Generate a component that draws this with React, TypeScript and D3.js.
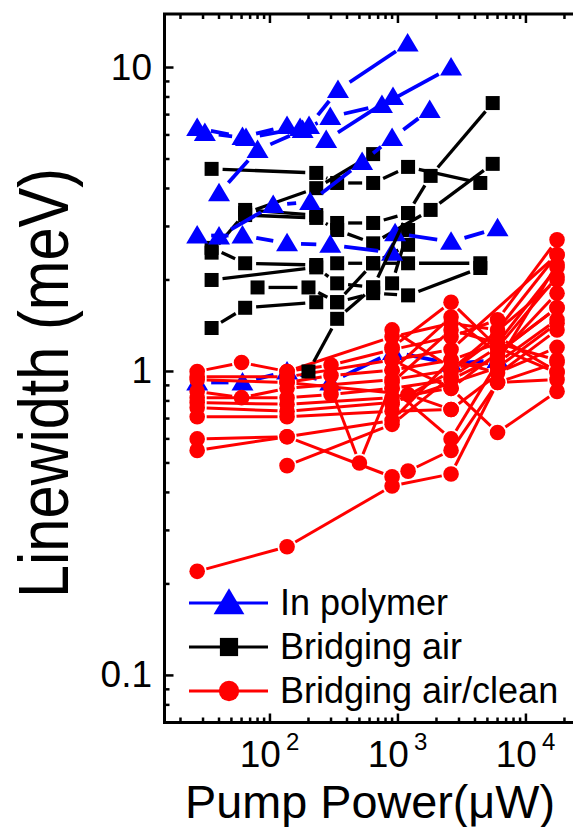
import React from 'react';
import * as d3 from 'd3';

type Pt = [number, number];

// In polymer (blue triangles)
const polymerSeries: Pt[][] = [
  [[27, 6.32], [61, 5.91], [136, 6.42], [202, 6.42], [340, 8.43], [1190, 12.0]],
  [[31, 6.09], [65, 5.86], [172, 6.32], [275, 5.77], [915, 8.0]],
  [[40, 3.86], [80, 5.35], [180, 6.23], [296, 6.88], [750, 7.53], [2600, 10.0]],
  [[40, 2.78], [106, 3.53], [206, 3.61], [525, 4.89], [900, 5.86], [1770, 7.25]],
  [[27, 2.8], [61, 2.8], [136, 2.64], [296, 2.61], [900, 2.46]],
  [[950, 2.85], [2600, 2.67], [6000, 2.96]],
  [[27, 0.92], [61, 0.92], [136, 1.0], [296, 0.92], [915, 1.16], [2600, 1.06], [6000, 1.09]],
];

// Bridging air (black squares)
const airSeries: Pt[][] = [
  [[35, 4.64], [230, 4.5], [335, 4.17], [640, 4.17], [1200, 4.71], [4400, 4.17]],
  [[35, 2.46], [64, 3.32], [230, 4.01], [640, 5.19]],
  [[64, 3.4], [230, 3.27], [335, 3.08], [640, 3.08], [1200, 3.32], [1800, 4.4], [5500, 7.64]],
  [[64, 3.27], [230, 3.2], [335, 2.92], [640, 2.64], [1800, 3.4], [5500, 4.82]],
  [[35, 2.55], [64, 2.27], [230, 2.24], [335, 2.27], [640, 2.27], [1200, 2.27], [4400, 2.27]],
  [[35, 2.0], [230, 2.2], [335, 1.95], [640, 1.89], [900, 1.95], [1200, 2.92]],
  [[80, 1.89], [200, 1.89], [335, 1.69], [640, 1.81], [1200, 1.78], [4400, 2.19]],
  [[35, 1.39], [64, 1.62], [230, 1.69], [335, 1.69], [640, 2.27], [1200, 2.61]],
];
const airSeriesTop: Pt[][] = [
  [[200, 1.0], [335, 1.49], [640, 1.89], [1200, 3.32]],
];

// Bridging air/clean (red circles)
const cleanSeries: Pt[][] = [
  [[27, 1.0], [60, 1.07], [136, 1.0], [300, 1.05], [900, 1.18], [2600, 1.3], [6000, 1.48], [17500, 2.71]],
  [[27, 0.96], [136, 0.96], [900, 1.09], [2600, 1.18], [17500, 2.42]],
  [[27, 0.94], [136, 0.92], [300, 0.97], [900, 1.01], [2600, 1.09], [6000, 1.24], [17500, 2.2]],
  [[27, 0.86], [60, 0.82], [136, 0.88], [900, 0.94], [2600, 1.01], [17500, 2.0]],
  [[27, 0.82], [136, 0.82], [300, 0.84], [900, 0.88], [2600, 0.94], [6000, 1.12], [17500, 1.81]],
  [[27, 0.79], [136, 0.78], [900, 0.82], [2600, 0.88], [17500, 1.62]],
  [[27, 0.76], [136, 0.74], [900, 0.79], [6000, 1.03], [17500, 1.44]],
  [[27, 0.71], [136, 0.71], [900, 0.74], [2600, 0.75], [17500, 1.37]],
  [[27, 0.6], [136, 0.61], [900, 0.69], [2600, 1.09], [6000, 0.99], [17500, 1.2]],
  [[27, 0.55], [136, 0.61], [900, 0.45], [1200, 0.47], [2600, 0.55], [6000, 0.92], [17500, 1.07]],
  [[136, 0.49], [900, 0.67], [2600, 0.96], [6000, 1.2], [17500, 0.99]],
  [[27, 0.22], [136, 0.265], [900, 0.42], [2600, 0.46], [6000, 0.92], [17500, 0.94]],
  [[300, 0.88], [500, 0.5], [900, 0.92], [2600, 1.37], [17500, 1.09]],
  [[900, 1.37], [2600, 1.03], [6000, 1.07], [17500, 1.48]],
  [[900, 1.2], [2600, 1.69], [6000, 1.2], [17500, 2.05]],
  [[136, 0.92], [1200, 0.84], [2600, 0.75]],
  [[900, 1.01], [2600, 1.51], [6000, 1.15], [17500, 1.62]],
  [[900, 0.88], [2600, 0.6], [6000, 1.07], [17500, 2.25]],
  [[136, 1.0], [900, 1.3], [2600, 1.44], [6000, 1.37], [17500, 2.42]],
  [[900, 1.09], [2600, 0.88], [6000, 0.63], [17500, 0.86]],
  [[900, 0.78], [2600, 1.0], [6000, 1.3], [17500, 1.0]],
];

const xTickValues = [100, 1000, 10000];
const xTickExps = ['2', '3', '4'];
const yTickValues = [0.1, 1, 10];
const yTickLabels = ['0.1', '1', '10'];
const legendLabels = ['In polymer', 'Bridging air', 'Bridging air/clean'];
const xTitle = 'Pump Power(\u03BCW)';
const yTitle = 'Linewidth (meV)';

const W = 573;
const H = 827;
const FONT = "'Liberation Sans', Arial, Helvetica, sans-serif";
const BLUE = '#0000FF';
const RED = '#FF0000';
const BLACK = '#000000';

const x = d3.scaleLog().domain([15, 30000]).range([164.5, 587]);
const y = d3.scaleLog().domain([0.07, 15]).range([722.5, 14]);

const X0 = x(15);
const X1 = x(30000);
const Y0 = y(0.07);
const Y1 = y(15);

type Kind = 'tri' | 'sq' | 'circ';

function Marker({ kind, cx, cy, color, scale = 1 }: { kind: Kind; cx: number; cy: number; color: string; scale?: number }) {
  if (kind === 'tri') {
    const w = 11 * scale, t = 10.5 * scale, b = 8 * scale;
    return <path d={`M${cx},${cy - t} L${cx + w},${cy + b} L${cx - w},${cy + b} Z`} fill={color} />;
  }
  if (kind === 'sq') {
    const s = 7 * scale;
    return <rect x={cx - s} y={cy - s} width={2 * s} height={2 * s} fill={color} />;
  }
  return <circle cx={cx} cy={cy} r={7.8 * scale} fill={color} />;
}

function Series({ pts, kind, color, width, gap }: { pts: Pt[]; kind: Kind; color: string; width: number; gap: number }) {
  const px = pts.map(([a, b]) => [x(a), y(b)] as [number, number]);
  const segs: JSX.Element[] = [];
  for (let i = 0; i < px.length - 1; i++) {
    const [x1, y1] = px[i];
    const [x2, y2] = px[i + 1];
    const dx = x2 - x1, dy = y2 - y1;
    const L = Math.hypot(dx, dy);
    if (L <= 2 * gap + 1) continue;
    const ux = dx / L, uy = dy / L;
    segs.push(
      <line key={i} x1={x1 + ux * gap} y1={y1 + uy * gap} x2={x2 - ux * gap} y2={y2 - uy * gap}
        stroke={color} strokeWidth={width} />
    );
  }
  return (
    <g>
      {segs}
      {px.map(([a, b], i) => <Marker key={'m' + i} kind={kind} cx={a} cy={b} color={color} />)}
    </g>
  );
}

function minorTicks(lo: number, hi: number, startExp: number, endExp: number) {
  const out: number[] = [];
  for (let e = startExp; e <= endExp; e++) {
    for (let k = 1; k <= 9; k++) {
      const v = k * Math.pow(10, e);
      if (v > lo && v < hi) out.push(v);
    }
  }
  return out;
}

export default function App() {
  const yTicksAll = minorTicks(0.07, 15, -2, 1);
  const xTicksAll = minorTicks(15, 30000, 1, 4);
  const isMajor = (v: number) => Math.abs(Math.log10(v) - Math.round(Math.log10(v))) < 1e-6;

  const legendY = [603, 647, 691];
  const legendKinds: Kind[] = ['tri', 'sq', 'circ'];
  const legendColors = [BLUE, BLACK, RED];
  const legendScale = [1.4, 1.3, 1.3];

  return (
    <div style={{ position: 'absolute', left: 0, top: 0 }}>
      <svg width={W} height={H} style={{ display: 'block', background: '#fff' }} fontFamily={FONT}>
        {/* data */}
        <g>
          {airSeries.map((s, i) => <Series key={'a' + i} pts={s} kind="sq" color={BLACK} width={3.3} gap={11} />)}
          {polymerSeries.map((s, i) => <Series key={'p' + i} pts={s} kind="tri" color={BLUE} width={3.8} gap={14} />)}
          {cleanSeries.map((s, i) => <Series key={'c' + i} pts={s} kind="circ" color={RED} width={3} gap={9.5} />)}
          {airSeriesTop.map((s, i) => <Series key={'t' + i} pts={s} kind="sq" color={BLACK} width={3.3} gap={11} />)}
        </g>

        {/* frame */}
        <path d={`M${X1},${Y1} L${X0},${Y1} L${X0},${Y0} L${X1},${Y0}`} fill="none" stroke={BLACK} strokeWidth={3} />

        {/* y ticks */}
        {yTicksAll.map((v, i) => {
          const len = isMajor(v) ? 9 : 5;
          return <line key={'yt' + i} x1={X0} x2={X0 + len} y1={y(v)} y2={y(v)} stroke={BLACK} strokeWidth={2.5} />;
        })}
        {/* x ticks bottom & top */}
        {xTicksAll.map((v, i) => {
          const len = isMajor(v) ? 9 : 5;
          return (
            <g key={'xt' + i}>
              <line x1={x(v)} x2={x(v)} y1={Y0} y2={Y0 - len} stroke={BLACK} strokeWidth={2.5} />
              <line x1={x(v)} x2={x(v)} y1={Y1} y2={Y1 + len} stroke={BLACK} strokeWidth={2.5} />
            </g>
          );
        })}

        {/* y tick labels */}
        {yTickValues.map((v, i) => (
          <text key={'yl' + i} x={152} y={y(v) + 12} fontSize={37} textAnchor="end" fill={BLACK}>{yTickLabels[i]}</text>
        ))}
        {/* x tick labels: base and exponent as separate texts */}
        {xTickValues.map((v, i) => (
          <g key={'xl' + i}>
            <text x={x(v) + 11} y={767} fontSize={37} textAnchor="end" fill={BLACK}>10</text>
            <text x={x(v) + 16} y={750} fontSize={24} textAnchor="start" fill={BLACK}>{xTickExps[i]}</text>
          </g>
        ))}

        {/* axis titles */}
        <text x={370} y={818} fontSize={46} textAnchor="middle" textLength={370} lengthAdjust="spacingAndGlyphs" fill={BLACK}>{xTitle}</text>
        <text transform="translate(68,383) rotate(-90)" fontSize={71} textAnchor="middle" textLength={430} lengthAdjust="spacingAndGlyphs" fill={BLACK}>{yTitle}</text>

        {/* legend */}
        {legendLabels.map((lab, i) => (
          <g key={'lg' + i}>
            <line x1={189} x2={268} y1={legendY[i]} y2={legendY[i]} stroke={legendColors[i]} strokeWidth={3} />
            <Marker kind={legendKinds[i]} cx={229} cy={legendY[i]} color={legendColors[i]} scale={legendScale[i]} />
            <text x={280} y={legendY[i] + 12} fontSize={36} fill={BLACK}>{lab}</text>
          </g>
        ))}
      </svg>
    </div>
  );
}
